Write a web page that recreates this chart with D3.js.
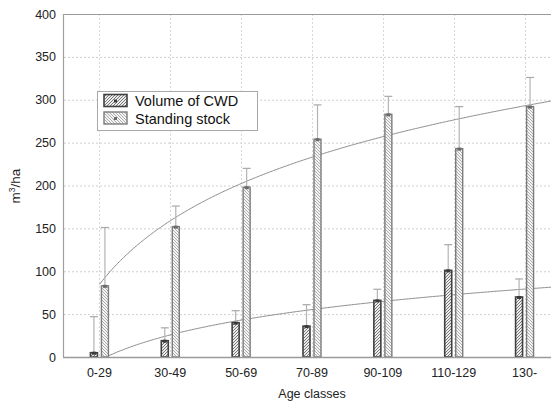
<!DOCTYPE html>
<html>
<head>
<meta charset="utf-8">
<script src="https://cdn.jsdelivr.net/npm/d3@7"></script>
<style>
  html, body { margin: 0; padding: 0; background: #fff; overflow: hidden; }
  svg { display: block; font-family: "Liberation Sans", Arial, sans-serif; }
</style>
</head>
<body>
<svg id="chart" width="551" height="402"></svg>
<script>
// Age classes and mean volumes (m3/ha) with upper error amounts
const ageClasses = ["0-29", "30-49", "50-69", "70-89", "90-109", "110-129", "130-"];
const cwdVolume = [5, 19, 40, 36, 66, 101, 70];
const cwdError = [42, 15, 14, 25, 13, 30, 21];
const standingStock = [83, 152, 198, 254, 283, 243, 292];
const standingError = [68, 24, 22, 40, 21, 49, 34];
const yTicks = [0, 50, 100, 150, 200, 250, 300, 350, 400];
const seriesNames = ["Volume of CWD", "Standing stock"];

const svg = d3.select("#chart");
const W = 551, H = 402;
const plot = { left: 64, right: 560, top: 14, bottom: 357 };

const x = d3.scaleBand().domain(ageClasses).range([plot.left, plot.right]).padding(0);
const y = d3.scaleLinear().domain([0, 400]).range([plot.bottom, plot.top]);

// continuous position for the trend curves: category index 1..n at band centres
const xIdx = d3.scaleLinear()
  .domain([1, ageClasses.length])
  .range([x(ageClasses[0]) + x.bandwidth() / 2, x(ageClasses[ageClasses.length - 1]) + x.bandwidth() / 2]);

const defs = svg.append("defs");
function hatch(id, color, bg, dir, w) {
  const p = defs.append("pattern").attr("id", id)
    .attr("patternUnits", "userSpaceOnUse").attr("width", 3).attr("height", 3);
  p.append("rect").attr("width", 3).attr("height", 3).attr("fill", bg);
  const d = dir > 0 ? "M-1,1 l2,-2 M0,3 l3,-3 M2,4 l2,-2" : "M-1,2 l2,2 M0,0 l3,3 M2,-1 l2,2";
  p.append("path").attr("d", d).attr("stroke", color).attr("stroke-width", w);
}
hatch("hatchCwd", "#6a6a6a", "#ececec", 1, 0.9);
hatch("hatchSs", "#9a9a9a", "#f4f4f4", -1, 0.8);

defs.append("clipPath").attr("id", "plotClip").append("rect")
  .attr("x", plot.left).attr("y", plot.top).attr("width", plot.right - plot.left).attr("height", plot.bottom - plot.top);

// grid
const grid = svg.append("g");
grid.selectAll("line.h").data(yTicks.slice(1, -1)).enter().append("line")
  .attr("x1", plot.left).attr("x2", plot.right)
  .attr("y1", d => y(d) + 0.5).attr("y2", d => y(d) + 0.5)
  .attr("stroke", "#cfcfcf").attr("stroke-dasharray", "2,2").attr("stroke-width", 1);
grid.selectAll("line.v").data(ageClasses).enter().append("line")
  .attr("x1", d => Math.round(x(d) + x.bandwidth() / 2) + 0.5)
  .attr("x2", d => Math.round(x(d) + x.bandwidth() / 2) + 0.5)
  .attr("y1", plot.top).attr("y2", plot.bottom)
  .attr("stroke", "#d8d8d8").attr("stroke-dasharray", "2,2").attr("stroke-width", 1);

// logarithmic least-squares trend  y = a + b ln(t)
function logFit(vals) {
  const ls = vals.map((v, i) => Math.log(i + 1));
  const ml = d3.mean(ls), mv = d3.mean(vals);
  const b = d3.sum(ls, (l, i) => (l - ml) * (vals[i] - mv)) / d3.sum(ls, l => (l - ml) ** 2);
  return { a: mv - b * ml, b };
}
const tEnd = xIdx.invert(plot.right);
const tSamples = d3.range(1, tEnd + 0.001, 0.02);
const curves = svg.append("g").attr("clip-path", "url(#plotClip)");
[cwdVolume, standingStock].forEach(vals => {
  const fit = logFit(vals);
  curves.append("path")
    .attr("d", d3.line().x(t => xIdx(t)).y(t => y(fit.a + fit.b * Math.log(t)))(tSamples))
    .attr("fill", "none").attr("stroke", "#8c8c8c").attr("stroke-width", 1);
});

// bars
const offsets = [-5.5, 5.5];
const barW = 7;
const series = [
  { vals: cwdVolume, err: cwdError, fill: "url(#hatchCwd)", stroke: "#404040", sw: 1.6, mark: "#3a3a3a" },
  { vals: standingStock, err: standingError, fill: "url(#hatchSs)", stroke: "#7c7c7c", sw: 1.4, mark: "#6a6a6a" }
];
const barsG = svg.append("g");
series.forEach((s, si) => {
  const g = barsG.append("g");
  const cx = (d, i) => x(ageClasses[i]) + x.bandwidth() / 2 + offsets[si];
  // error bars
  g.selectAll("line.e").data(s.vals).enter().append("line")
    .attr("x1", (d, i) => cx(d, i)).attr("x2", (d, i) => cx(d, i))
    .attr("y1", d => y(d)).attr("y2", (d, i) => y(d + s.err[i]))
    .attr("stroke", "#b4b4b4").attr("stroke-width", 1.2);
  g.selectAll("line.c").data(s.vals).enter().append("line")
    .attr("x1", (d, i) => cx(d, i) - 4).attr("x2", (d, i) => cx(d, i) + 4)
    .attr("y1", (d, i) => y(d + s.err[i])).attr("y2", (d, i) => y(d + s.err[i]))
    .attr("stroke", "#a8a8a8").attr("stroke-width", 1.2);
  g.selectAll("rect.b").data(s.vals).enter().append("rect")
    .attr("x", (d, i) => cx(d, i) - barW / 2).attr("width", barW)
    .attr("y", d => y(d)).attr("height", d => plot.bottom - y(d))
    .attr("fill", s.fill).attr("stroke", s.stroke).attr("stroke-width", s.sw);
  g.selectAll("rect.m").data(s.vals).enter().append("rect")
    .attr("x", (d, i) => cx(d, i) - 2).attr("width", 4)
    .attr("y", d => y(d) - 1).attr("height", 3)
    .attr("fill", s.mark);
});

// frame
svg.append("line").attr("x1", plot.left).attr("x2", W).attr("y1", plot.top + 0.5).attr("y2", plot.top + 0.5)
  .attr("stroke", "#9a9a9a").attr("stroke-width", 1);
svg.append("line").attr("x1", plot.left - 0.5).attr("x2", plot.left - 0.5).attr("y1", plot.top).attr("y2", plot.bottom)
  .attr("stroke", "#a0a0a0").attr("stroke-width", 1.2);
svg.append("line").attr("x1", plot.left - 1).attr("x2", W).attr("y1", plot.bottom + 0.5).attr("y2", plot.bottom + 0.5)
  .attr("stroke", "#9a9a9a").attr("stroke-width", 1.6);

// axes
const yAxis = d3.axisLeft(y).tickValues(yTicks).tickSize(0).tickPadding(8);
const ya = svg.append("g").attr("transform", `translate(${plot.left},0)`).call(yAxis);
ya.select(".domain").remove();
ya.selectAll("text").attr("font-size", 12.5).attr("fill", "#222").attr("font-family", "Liberation Sans, Arial, sans-serif");

const xAxis = d3.axisBottom(x).tickSize(0).tickPadding(11);
const xa = svg.append("g").attr("transform", `translate(0,${plot.bottom})`).call(xAxis);
xa.select(".domain").remove();
xa.selectAll("text").attr("font-size", 12.5).attr("fill", "#222").attr("font-family", "Liberation Sans, Arial, sans-serif");

svg.append("text").attr("x", (plot.left + plot.right) / 2).attr("y", 398)
  .attr("text-anchor", "middle").attr("font-size", 12.5).attr("fill", "#222").text("Age classes");

const yl = svg.append("text").attr("transform", "translate(20,186) rotate(-90)")
  .attr("text-anchor", "middle").attr("font-size", 13.5).attr("fill", "#222");
yl.append("tspan").text("m");
yl.append("tspan").attr("font-size", 8.5).attr("dy", -5).text("3");
yl.append("tspan").attr("dy", 5).text("/ha");

// legend
const lg = svg.append("g");
lg.append("rect").attr("x", 97.5).attr("y", 91.5).attr("width", 160).attr("height", 39)
  .attr("fill", "#fff").attr("stroke", "#a8a8a8").attr("stroke-width", 1);
series.forEach((s, i) => {
  const yy = 94.5 + i * 17.5;
  lg.append("rect").attr("x", 104).attr("y", yy).attr("width", 23).attr("height", 12)
    .attr("fill", s.fill).attr("stroke", s.stroke).attr("stroke-width", s.sw);
  lg.append("rect").attr("x", 114).attr("y", yy + 5).attr("width", 3).attr("height", 3).attr("fill", s.mark);
  lg.append("text").attr("x", 135).attr("y", yy + 11.5).attr("font-size", 14.5).attr("fill", "#111").text(seriesNames[i]);
});
</script>
</body>
</html>
